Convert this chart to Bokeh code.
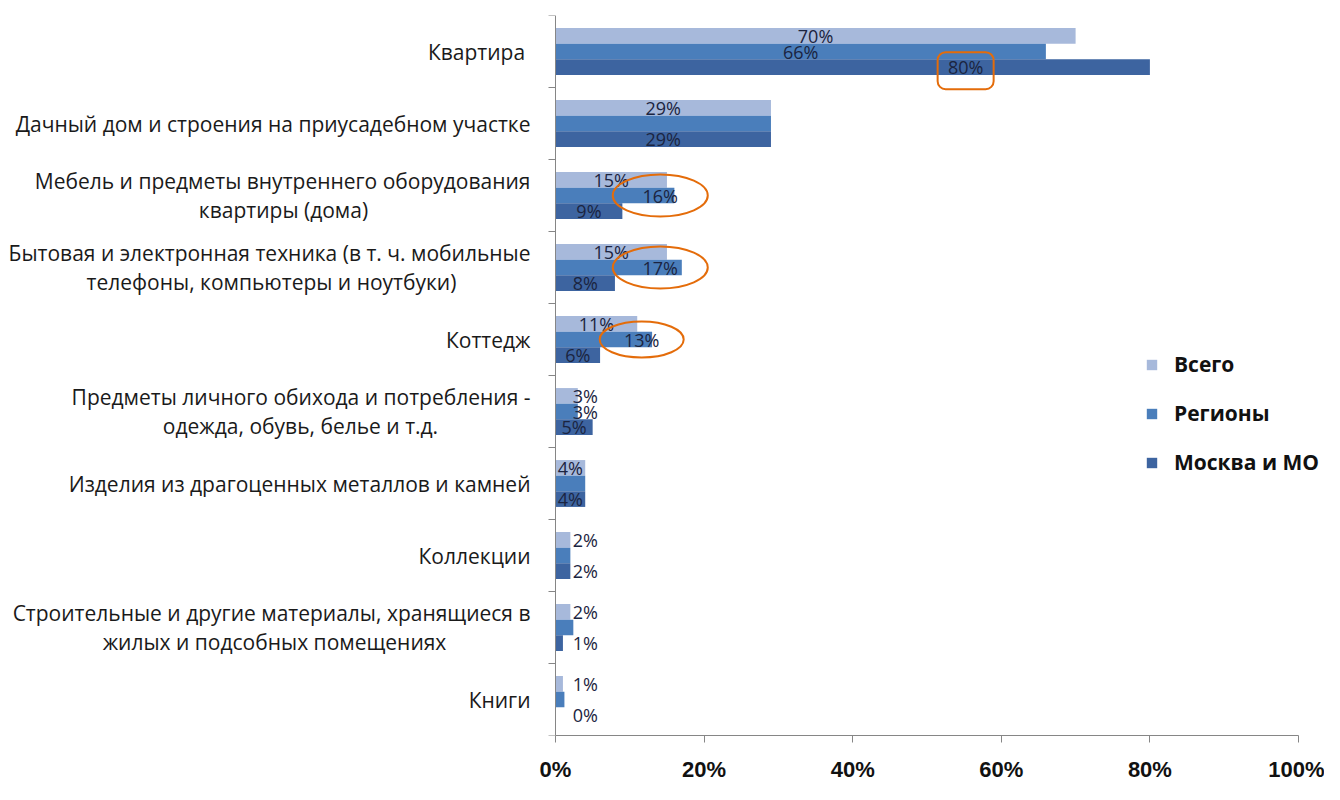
from bokeh.plotting import figure
from bokeh.models import (ColumnDataSource, Range1d, FixedTicker, Legend, LegendItem,
                          Span, Rect)
from bokeh.core.properties import value
from bokeh.embed import file_html
from bokeh.resources import INLINE

categories = [
    "Квартира ",
    "Дачный дом и строения на приусадебном участке",
    "Мебель и предметы внутреннего оборудования\nквартиры (дома)",
    "Бытовая и электронная техника (в т. ч. мобильные\nтелефоны, компьютеры и ноутбуки)",
    "Коттедж",
    "Предметы личного обихода и потребления -\nодежда, обувь, белье и т.д.",
    "Изделия из драгоценных металлов и камней",
    "Коллекции",
    "Строительные и другие материалы, хранящиеся в\nжилых и подсобных помещениях",
    "Книги",
]
series_names = ["Всего", "Регионы", "Москва и МО"]
vsego = [70, 29, 15, 15, 11, 3, 4, 2, 2, 1]
regiony = [66, 29, 16, 17, 13, 3, 4, 2, 2.4, 1.2]
moskva = [80, 29, 9, 8, 6, 5, 4, 2, 1, 0]
# which data labels are shown (some were hidden in the original)
show_vsego = [1, 1, 1, 1, 1, 1, 1, 1, 1, 1]
show_regiony = [1, 0, 1, 1, 1, 1, 0, 0, 0, 0]
show_moskva = [1, 1, 1, 1, 1, 1, 1, 1, 1, 1]
x_ticks = [0, 20, 40, 60, 80, 100]

# highlighted labels (category index, series index, label centre in %)
callout_cat = [0, 2, 3, 4]
callout_series = [2, 1, 1, 1]
callout_x = [55.2, 14.1, 14.1, 11.6]

# layout: centre of the second line of wrapped category labels, px left of the axis
wrap_center_px = {2: 272, 3: 284, 5: 255, 8: 281}

colors = ["#A7B9DB", "#4A7EBB", "#3D64A0"]
orange = "#E46C0A"
axis_gray = "#868686"

n = len(categories)
centers = [n - 0.5 - i for i in range(n)]
bar_h = 0.217
offsets = [bar_h, 0.0, -bar_h]
all_vals = [vsego, regiony, moskva]
all_show = [show_vsego, show_regiony, show_moskva]

W, H = 1324, 784
AXIS_PX = 555.0      # where 0% sits
FULL_PX = 1298.0     # where 100% sits
scale = (FULL_PX - AXIS_PX) / 100.0
px = 1.0 / scale     # data units per pixel
x_start = -AXIS_PX * px
x_end = (W - AXIS_PX) * px

p = figure(width=W, height=H, output_backend="svg", toolbar_location=None,
           x_range=Range1d(x_start, x_end), y_range=Range1d(0, n),
           min_border_left=0, min_border_right=0, min_border_top=15, min_border_bottom=36)
p.outline_line_color = None
p.grid.visible = False
p.yaxis.visible = False

renderers = []
for s in range(3):
    ys = [c + offsets[s] for c in centers]
    src = ColumnDataSource(dict(y=ys, right=all_vals[s]))
    r = p.hbar(y="y", left=0, right="right", height=bar_h, source=src,
               fill_color=colors[s], line_color=None)
    renderers.append(r)

# value axis (vertical line at 0) and category boundary ticks
p.add_layout(Span(location=0, dimension="height", line_color=axis_gray, line_width=1))
bounds = [float(b) for b in range(n + 1)]
p.segment(x0=[0.0] * len(bounds), x1=[-7 * px] * len(bounds), y0=bounds, y1=bounds,
          line_color=axis_gray, line_width=1)

# category labels
label_x = -25 * px
line_off = 0.195
one_x, one_y, one_t = [], [], []
l1_x, l1_y, l1_t = [], [], []
l2_x, l2_y, l2_t = [], [], []
for i, cat in enumerate(categories):
    lines = cat.split("\n")
    if len(lines) == 1:
        one_x.append(label_x); one_y.append(centers[i]); one_t.append(lines[0])
    else:
        l1_x.append(label_x); l1_y.append(centers[i] + line_off); l1_t.append(lines[0])
        l2_x.append(-wrap_center_px[i] * px); l2_y.append(centers[i] - line_off); l2_t.append(lines[1])
cat_style = dict(text_font=value("Open Sans"), text_font_size="21px", text_color="#1a1a1a",
                 text_baseline="middle")
p.text(x=one_x, y=one_y, text=one_t, text_align="right", **cat_style)
p.text(x=l1_x, y=l1_y, text=l1_t, text_align="right", **cat_style)
p.text(x=l2_x, y=l2_y, text=l2_t, text_align="center", **cat_style)

# data labels
for s in range(3):
    lx, ly, lt = [], [], []
    for i in range(n):
        if not all_show[s][i]:
            continue
        v = all_vals[s][i]
        x = v / 2 if v > 3 else 4.0
        for k in range(len(callout_cat)):
            if callout_cat[k] == i and callout_series[k] == s:
                x = callout_x[k]
        lx.append(x)
        ly.append(centers[i] + offsets[s])
        lt.append(f"{round(v)}%")
    p.text(x=lx, y=ly, text=lt, text_align="center", text_baseline="middle",
           text_font=value("Open Sans"), text_font_size="18px", text_color="#1B2440")

# callouts
for k in range(len(callout_cat)):
    i, s = callout_cat[k], callout_series[k]
    cy = centers[i] + offsets[s]
    if k == 0:
        kw = dict(x=[callout_x[k]], y=[cy - 0.05], width=56, height=37,
                  width_units="screen", height_units="screen",
                  fill_alpha=0, line_color=orange, line_width=2)
        if "border_radius" in Rect.properties():
            kw["border_radius"] = 8
        p.rect(**kw)
    else:
        w = 95 if k < 3 else 84
        h = 42 if k < 3 else 36
        p.ellipse(x=[callout_x[k]], y=[cy], width=w, height=h,
                  width_units="screen", height_units="screen",
                  fill_alpha=0, line_color=orange, line_width=2)

# x axis limited to 0..100 %
xa = p.xaxis[0]
xa.bounds = (0, 100)
xa.ticker = FixedTicker(ticks=x_ticks)
xa.major_label_overrides = {t: f"{t}%" for t in x_ticks}
xa.axis_line_color = axis_gray
xa.major_tick_line_color = axis_gray
xa.major_tick_out = 7
xa.major_tick_in = 0
xa.minor_tick_line_color = None
xa.major_label_standoff = 14
xa.major_label_text_font = "Liberation Sans"
xa.major_label_text_font_style = "bold"
xa.major_label_text_font_size = "22px"
xa.major_label_text_color = "#111111"

legend = Legend(items=[LegendItem(label=series_names[s], renderers=[renderers[s]]) for s in range(3)],
                location=(1145, 259))
legend.border_line_color = None
legend.background_fill_alpha = 0
legend.padding = 0
legend.margin = 0
legend.glyph_width = 13
legend.glyph_height = 13
legend.label_standoff = 16
legend.label_text_font = "Open Sans"
legend.label_text_font_style = "bold"
legend.label_text_font_size = "21px"
legend.label_text_color = "#111111"
legend.label_height = 22
legend.spacing = 21
p.add_layout(legend, "center")

open("out.html", "w").write(file_html(p, INLINE))
